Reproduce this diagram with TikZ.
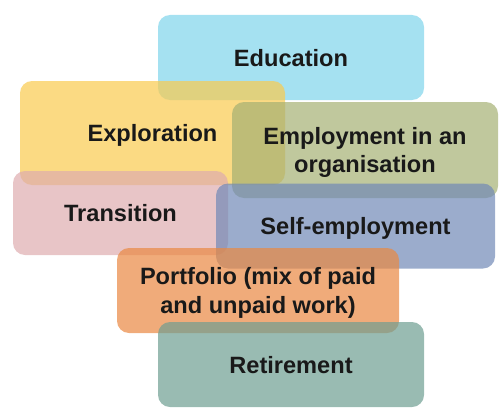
\documentclass[tikz,border=0pt]{standalone}
\usepackage{fontspec}
\setmainfont{Liberation Sans}
\begin{document}
\begin{tikzpicture}[x=1pt,y=-1pt,
  stage/.style={rounded corners=12pt, inner sep=0pt, outer sep=0pt,
    fill opacity=0.7, text opacity=1, align=center, text depth=0pt,
    font=\fontsize{23.6}{28.5}\selectfont\bfseries, text=black!90},
]
\definecolor{cEdu}{RGB}{127,212,235}
\definecolor{cExp}{RGB}{249,202,78}
\definecolor{cEmp}{RGB}{165,176,115}
\definecolor{cTra}{RGB}{222,172,175}
\definecolor{cSel}{RGB}{112,137,182}
\definecolor{cPor}{RGB}{234,136,65}
\definecolor{cRet}{RGB}{110,158,145}
\useasboundingbox (0,0) rectangle (500,412);
\node[stage, fill=cEdu, minimum width=266pt, minimum height=85pt] (edu) at (291,57.5) {Education};
\node[stage, fill=cExp, minimum width=265pt, minimum height=104pt] (exp) at (152.5,133) {Exploration};
\node[stage, fill=cEmp, minimum width=266pt, minimum height=96pt] (emp) at (365,150) {Employment in an\\organisation};
\node[stage, fill=cTra, minimum width=215pt, minimum height=84pt] (tra) at (120.5,213) {Transition};
\node[stage, fill=cSel, minimum width=279pt, minimum height=85pt] (sel) at (355.5,226) {Self-employment};
\node[stage, fill=cPor, minimum width=282pt, minimum height=85pt] (por) at (258,290.5) {Portfolio (mix of paid\\and unpaid work)};
\node[stage, fill=cRet, minimum width=266pt, minimum height=85pt] (ret) at (291,364.5) {Retirement};
\end{tikzpicture}
\end{document}
